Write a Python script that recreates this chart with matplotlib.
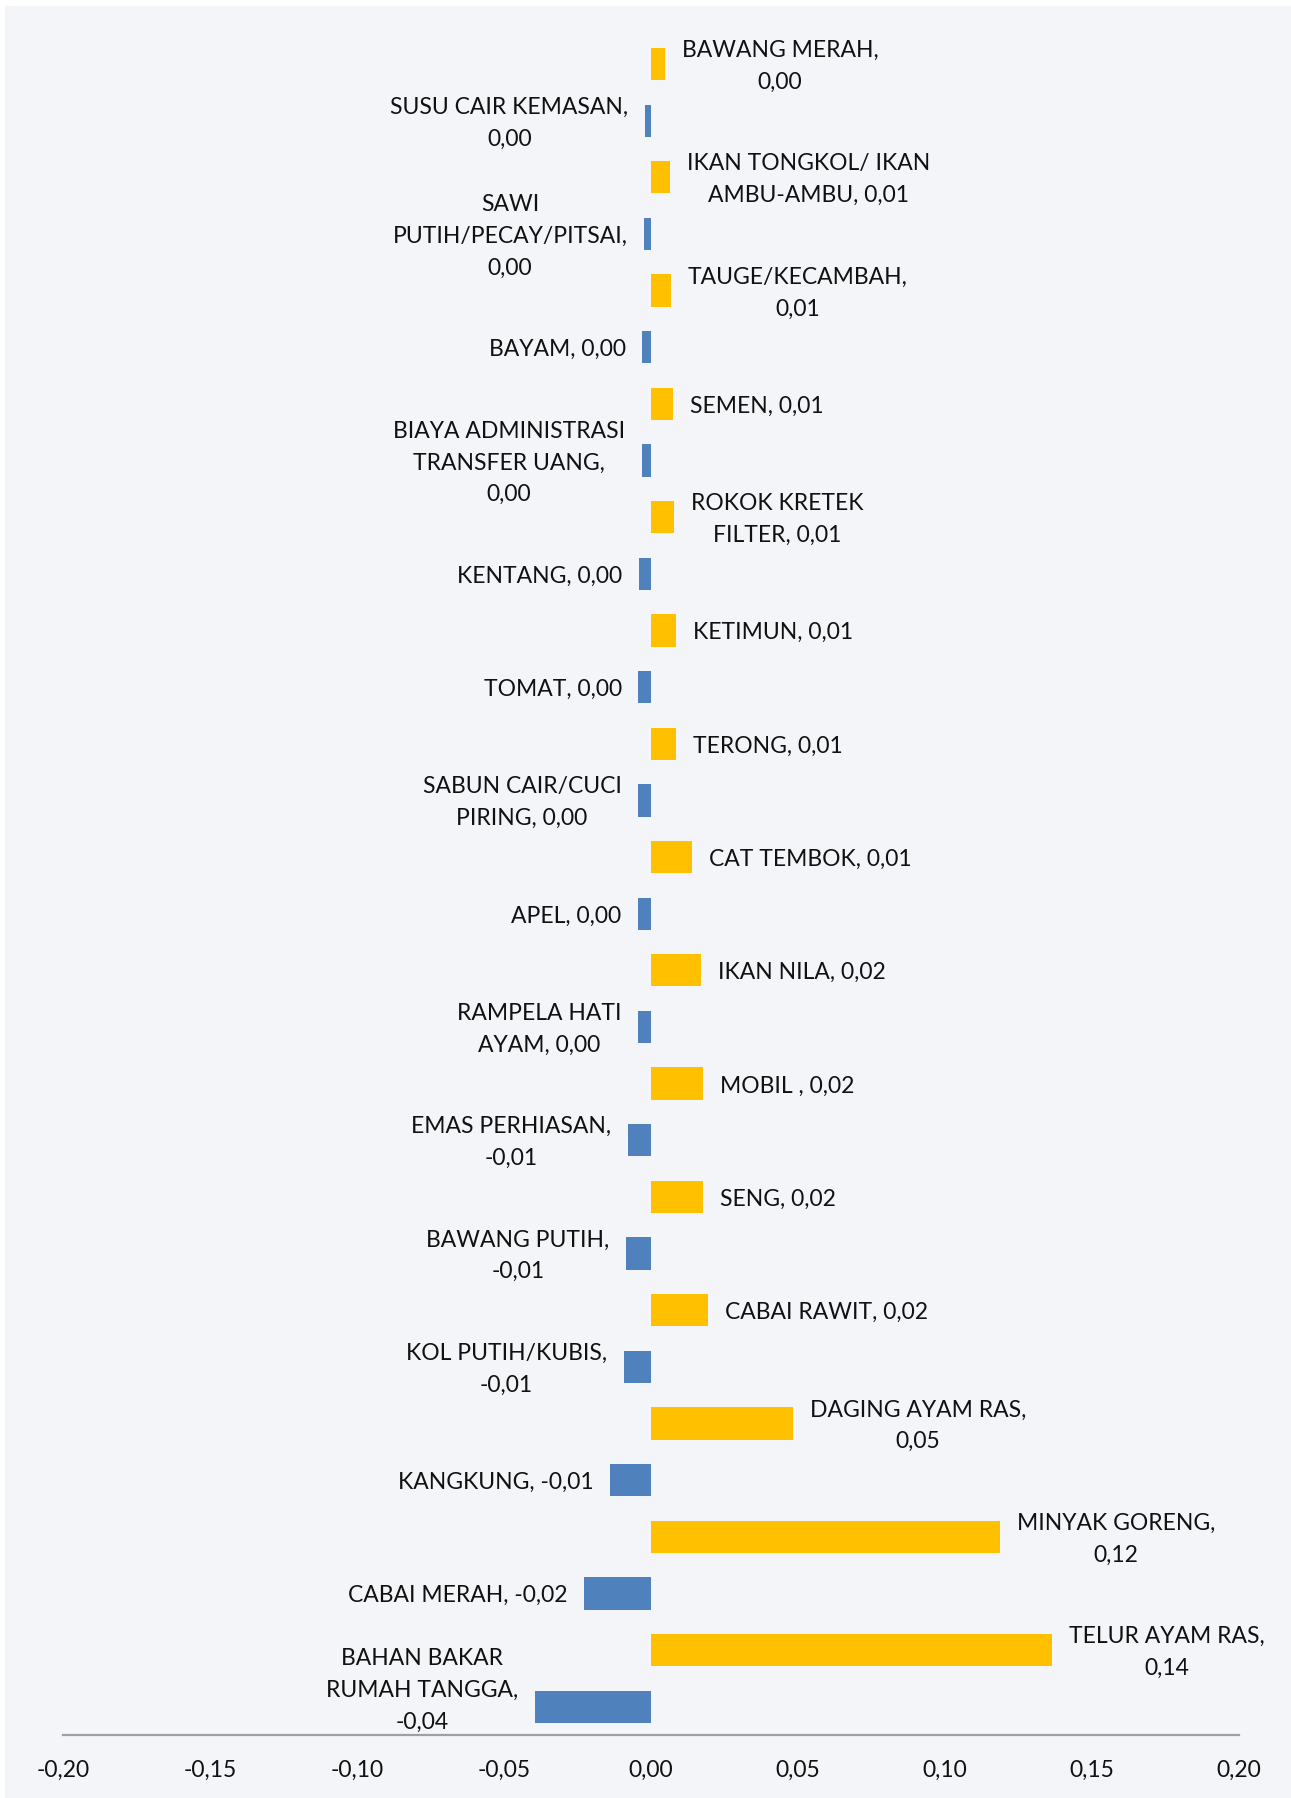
import matplotlib
matplotlib.use("Agg")
import matplotlib.pyplot as plt
from matplotlib.patches import Rectangle

# ---- data (top to bottom as in the chart) ----
names = [
    "BAWANG MERAH,", "SUSU CAIR KEMASAN,", "IKAN TONGKOL/ IKAN\nAMBU-AMBU,",
    "SAWI\nPUTIH/PECAY/PITSAI,", "TAUGE/KECAMBAH,", "BAYAM,", "SEMEN,",
    "BIAYA ADMINISTRASI\nTRANSFER UANG,", "ROKOK KRETEK\nFILTER,", "KENTANG,",
    "KETIMUN,", "TOMAT,", "TERONG,", "SABUN CAIR/CUCI\nPIRING,", "CAT TEMBOK,",
    "APEL,", "IKAN NILA,", "RAMPELA HATI\nAYAM,", "MOBIL ,", "EMAS PERHIASAN,",
    "SENG,", "BAWANG PUTIH,", "CABAI RAWIT,", "KOL PUTIH/KUBIS,",
    "DAGING AYAM RAS,", "KANGKUNG,", "MINYAK GORENG,", "CABAI MERAH,",
    "TELUR AYAM RAS,", "BAHAN BAKAR\nRUMAH TANGGA,",
]
# separator between name and value in the data label (" " same line, "\n" new line)
separators = [
    "\n", "\n", " ", "\n", "\n", " ", " ", "\n", " ", " ",
    " ", " ", " ", " ", " ", " ", " ", " ", " ", "\n",
    " ", "\n", " ", "\n", "\n", " ", "\n", " ", "\n", "\n",
]
values = [
    0.0048, -0.0020, 0.0065, -0.0023, 0.0068, -0.0030, 0.0075, -0.0032,
    0.0078, -0.0041, 0.0085, -0.0043, 0.0085, -0.0044, 0.0140, -0.0045,
    0.0170, -0.0045, 0.0177, -0.0078, 0.0177, -0.0084, 0.0194, -0.0093,
    0.0483, -0.0140, 0.1188, -0.0229, 0.1365, -0.0395,
]
xticks = [-0.20, -0.15, -0.10, -0.05, 0.00, 0.05, 0.10, 0.15, 0.20]

POS_COLOR = "#FFC000"
NEG_COLOR = "#4F81BD"
BG = "#F4F5F9"
TXT = "#111111"
FONT = "Lato"
FS = 16.5


def fmt(v):
    s = f"{v:.2f}"
    if s == "-0.00":
        s = "0.00"
    return s.replace(".", ",")


fig = plt.figure(figsize=(12.91, 17.98), dpi=100)
fig.patch.set_facecolor("white")
fig.add_artist(Rectangle((5 / 1291, 0), 1, 1 - 6 / 1798, transform=fig.transFigure,
                         facecolor=BG, edgecolor="none", zorder=-10))

ax = fig.add_axes([63 / 1291, 1 - 1735 / 1798, (1239 - 63) / 1291, (1735 - 35.7) / 1798])
ax.set_facecolor("none")

ypos = list(range(len(values)))
colors = [POS_COLOR if v >= 0 else NEG_COLOR for v in values]
ax.barh(ypos, values, height=0.57, color=colors, zorder=2)

ax.set_xlim(-0.20, 0.20)
ax.set_ylim(len(values) - 0.5, -0.5)

texts = []
for y, v, n, sep in zip(ypos, values, names, separators):
    label = f"{n}{sep}{fmt(v)}"
    dx = 12 if v >= 0 else -12
    t = ax.annotate(label, xy=(v, y), xytext=(dx, -1.7), textcoords="offset points",
                    ha="left" if v >= 0 else "right", va="center",
                    multialignment="center", fontsize=FS, family=FONT,
                    color=TXT, linespacing=1.64)
    texts.append(t)

for s in ["top", "right", "left"]:
    ax.spines[s].set_visible(False)
ax.spines["bottom"].set_color("#A0A0A0")
ax.spines["bottom"].set_linewidth(1.6)
ax.set_yticks([])
ax.set_xticks(xticks)
ax.set_xticklabels([fmt(t) for t in xticks], fontsize=FS, family=FONT, color=TXT)
ax.tick_params(axis="x", length=0, pad=18)

# keep data labels inside the plot area (as the spreadsheet does)
fig.canvas.draw()
renderer = fig.canvas.get_renderer()
ax_bb = ax.get_window_extent(renderer)
for t in texts:
    bb = t.get_window_extent(renderer)
    if bb.y0 < ax_bb.y0 + 2:
        shift_px = ax_bb.y0 + 2 - bb.y0
        ox, oy = t.xyann
        t.xyann = (ox, oy + shift_px * 72.0 / fig.dpi)

fig.savefig("out.png", dpi=100, facecolor=fig.get_facecolor())
